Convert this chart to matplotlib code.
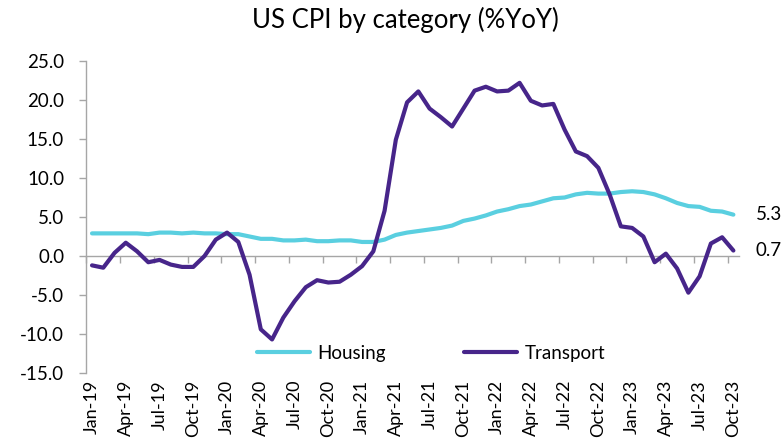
import matplotlib
matplotlib.use("Agg")
import matplotlib.pyplot as plt
import numpy as np

plt.rcParams['font.family'] = ['Lato', 'DejaVu Sans']

months = ["Jan-19", "Feb-19", "Mar-19", "Apr-19", "May-19", "Jun-19", "Jul-19", "Aug-19", "Sep-19", "Oct-19", "Nov-19", "Dec-19",
          "Jan-20", "Feb-20", "Mar-20", "Apr-20", "May-20", "Jun-20", "Jul-20", "Aug-20", "Sep-20", "Oct-20", "Nov-20", "Dec-20",
          "Jan-21", "Feb-21", "Mar-21", "Apr-21", "May-21", "Jun-21", "Jul-21", "Aug-21", "Sep-21", "Oct-21", "Nov-21", "Dec-21",
          "Jan-22", "Feb-22", "Mar-22", "Apr-22", "May-22", "Jun-22", "Jul-22", "Aug-22", "Sep-22", "Oct-22", "Nov-22", "Dec-22",
          "Jan-23", "Feb-23", "Mar-23", "Apr-23", "May-23", "Jun-23", "Jul-23", "Aug-23", "Sep-23", "Oct-23"]

housing = [2.9, 2.9, 2.9, 2.9, 2.9, 2.8, 3.0, 3.0, 2.9, 3.0, 2.9, 2.9,
           2.8, 2.8, 2.5, 2.2, 2.2, 2.0, 2.0, 2.1, 1.9, 1.9, 2.0, 2.0,
           1.8, 1.8, 2.1, 2.7, 3.0, 3.2, 3.4, 3.6, 3.9, 4.5, 4.8, 5.2,
           5.7, 6.0, 6.4, 6.6, 7.0, 7.4, 7.5, 7.9, 8.1, 8.0, 8.0, 8.2,
           8.3, 8.2, 7.9, 7.4, 6.8, 6.4, 6.3, 5.8, 5.7, 5.3]

transport = [-1.2, -1.5, 0.4, 1.7, 0.6, -0.8, -0.5, -1.1, -1.4, -1.4, 0.0, 2.1,
             3.0, 1.8, -2.4, -9.4, -10.7, -7.9, -5.8, -4.0, -3.1, -3.4, -3.3, -2.4,
             -1.3, 0.6, 5.8, 14.9, 19.7, 21.1, 18.9, 17.8, 16.6, 18.9, 21.2, 21.7,
             21.1, 21.2, 22.2, 19.9, 19.3, 19.5, 16.2, 13.4, 12.8, 11.3, 7.9, 3.8,
             3.6, 2.5, -0.8, 0.3, -1.6, -4.7, -2.6, 1.6, 2.4, 0.7]

yticks = [-15, -10, -5, 0, 5, 10, 15, 20, 25]

HOUSING_C = "#5ACFE0"
TRANSPORT_C = "#47258A"
AXIS_C = "#A6A6A6"

fig = plt.figure(figsize=(7.84, 4.42), dpi=100)
ax = fig.add_axes([86.4 / 784, 1 - 373 / 442, (739 - 86.4) / 784, 312 / 442])

x = np.arange(len(months))
ax.plot(x, housing, color=HOUSING_C, lw=3.0, label="Housing", solid_capstyle="round", solid_joinstyle="round")
ax.plot(x, transport, color=TRANSPORT_C, lw=3.0, label="Transport", solid_capstyle="round", solid_joinstyle="round")

ax.set_xlim(-0.5, len(months) - 0.5)
ax.set_ylim(-15, 25)
ax.set_yticks(yticks)
ax.set_yticklabels([f"{v:.1f}" for v in yticks], fontsize=13.5)
ax.tick_params(axis="y", length=5, width=1, color=AXIS_C, pad=11)

for s in ["top", "right", "bottom"]:
    ax.spines[s].set_visible(False)
ax.spines["left"].set_color(AXIS_C)
ax.spines["left"].set_linewidth(1)

# bottom labels (no tick marks)
ax.set_xticks(x[::3])
ax.set_xticklabels(months[::3], rotation=90, fontsize=13)
ax.tick_params(axis="x", length=0, pad=5)

# zero-line axis with boundary ticks
sec = ax.secondary_xaxis(15 / 40)
sec.set_xticks(np.arange(-0.5, len(months) - 1, 3))
sec.set_xticklabels([])
sec.tick_params(axis="x", direction="out", length=5, width=1, color=AXIS_C)
sec.spines["bottom"].set_color(AXIS_C)
sec.spines["bottom"].set_linewidth(1)

# end labels
ax.annotate(f"{housing[-1]:.1f}", xy=(x[-1], housing[-1]), xytext=(16, 0), textcoords="offset points",
            va="center", ha="left", fontsize=13.5, annotation_clip=False)
ax.annotate(f"{transport[-1]:.1f}", xy=(x[-1], transport[-1]), xytext=(16, 0), textcoords="offset points",
            va="center", ha="left", fontsize=13.5, annotation_clip=False)

leg = ax.legend(loc="center", bbox_to_anchor=(0.528, 0.064), ncol=2, frameon=False, fontsize=13.5,
                handlelength=2.8, columnspacing=4.2, handletextpad=0.4)

fig.text(405 / 784, 1 - 20 / 442, "US CPI by category (%YoY)", ha="center", va="center", fontsize=18.5)

fig.savefig("out.png", dpi=100)
